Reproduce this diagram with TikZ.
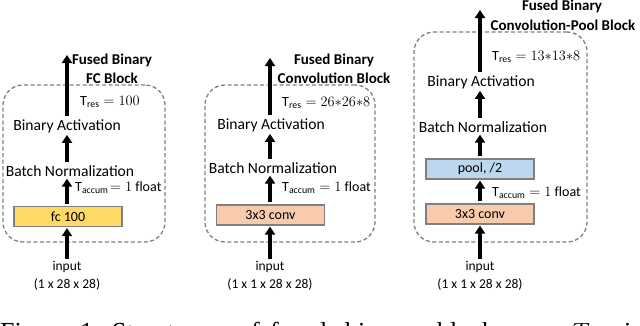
\documentclass[tikz,border=0pt]{standalone}
\usepackage{fontspec}
\setmainfont{Carlito}
\newfontfamily\capfont{Liberation Serif}
\usetikzlibrary{arrows.meta}
\definecolor{dashgray}{HTML}{808080}
\definecolor{boxgray}{HTML}{7F7F7F}
\definecolor{fcyellow}{HTML}{FFD966}
\definecolor{convorange}{HTML}{F8CBAD}
\definecolor{poolblue}{HTML}{BDD7EE}
\begin{document}
\begin{tikzpicture}[x=1pt,y=-1pt,
 lbl/.style={font=\fontsize{15.6}{17}\selectfont, inner sep=1pt},
 ttl/.style={font=\fontsize{15}{16}\selectfont\bfseries, inner sep=0pt},
 blk/.style={draw=boxgray, line width=1.2pt, minimum width=108pt, minimum height=20pt, inner sep=0pt, font=\fontsize{14}{15}\selectfont},
 arr/.style={line width=3.2pt, -{Triangle[width=10pt,length=8pt]}, shorten <=2pt, shorten >=1pt},
 grp/.style={draw=dashgray, dash pattern=on 4pt off 2.5pt, line width=1.3pt, rounded corners=20pt, inner sep=0pt},
 mth/.style={font=\fontsize{14}{16}\selectfont, inner sep=0pt, anchor=west},
 inp/.style={font=\fontsize{13.5}{15}\selectfont, inner sep=0pt},
 captxt/.style={font=\capfont\fontsize{26}{30}\selectfont, inner sep=0pt, anchor=base west}]
\useasboundingbox (0,0) rectangle (640,325);
\fill[white] (0,0) rectangle (640,325);

% ---------- Block 1 ----------
\node[grp, minimum width=162pt, minimum height=157pt] (g1) at (84,163.5) {};
\node[ttl] (t1a) at (112,60) {Fused Binary};
\node[ttl] (t1b) at (112,78) {FC Block};
\node[mth] (r1) at (80,102) {$\mathrm{T}_{\mathrm{res}} = 100$};
\node[lbl] (ba1) at (67,126) {Binary Activation};
\node[lbl] (bn1) at (70,171) {Batch Normalization};
\node[mth] (c1) at (75,188) {$\mathrm{T}_{\mathrm{accum}}\!= 1\ \mathrm{float}$};
\node[blk, fill=fcyellow] (b1) at (68,216.5) {fc 100};
\node[inp] (i1) at (67,267) {input};
\node[inp] (d1) at (67,284) {(1 x 28 x 28)};
\coordinate (o1) at (67,54);
\draw[arr] (i1.north -| o1) -- (b1.south -| o1);
\draw[arr] (b1.north -| o1) -- (bn1.south -| o1);
\draw[arr] (bn1.north -| o1) -- (ba1.south -| o1);
\draw[arr] (ba1.north -| o1) -- (o1);

% ---------- Block 2 ----------
\node[grp, minimum width=170pt, minimum height=157pt] (g2) at (290,163.5) {};
\node[ttl] (t2a) at (334,60) {Fused Binary};
\node[ttl] (t2b) at (334,78) {Convolution Block};
\node[mth] (r2) at (282,103) {$\mathrm{T}_{\mathrm{res}} = 26{*}26{*}8$};
\node[lbl] (ba2) at (271,125) {Binary Activation};
\node[lbl] (bn2) at (273,168) {Batch Normalization};
\node[mth] (c2) at (282,188) {$\mathrm{T}_{\mathrm{accum}} = 1\ \mathrm{float}$};
\node[blk, fill=convorange] (b2) at (270.5,215) {3x3 conv};
\node[inp] (i2) at (270,267) {input};
\node[inp] (d2) at (270,284) {(1 x 1 x 28 x 28)};
\coordinate (o2) at (270,57);
\draw[arr] (i2.north -| o2) -- (b2.south -| o2);
\draw[arr] (b2.north -| o2) -- (bn2.south -| o2);
\draw[arr] (bn2.north -| o2) -- (ba2.south -| o2);
\draw[arr] (ba2.north -| o2) -- (o2);

% ---------- Block 3 ----------
\node[grp, minimum width=173pt, minimum height=210pt] (g3) at (500.5,137) {};
\node[ttl] (t3a) at (562,6) {Fused Binary};
\node[ttl] (t3b) at (563,25) {Convolution-Pool Block};
\node[mth] (r3) at (492,57) {$\mathrm{T}_{\mathrm{res}} = 13{*}13{*}8$};
\node[lbl] (ba3) at (481,82) {Binary Activation};
\node[lbl] (bn3) at (483,127) {Batch Normalization};
\node[blk, fill=poolblue] (p3) at (480,169) {pool, /2};
\node[mth] (c3) at (492,193) {$\mathrm{T}_{\mathrm{accum}} = 1\ \mathrm{float}$};
\node[blk, fill=convorange] (b3) at (480,214) {3x3 conv};
\node[inp] (i3) at (480,267) {input};
\node[inp] (d3) at (480,284) {(1 x 1 x 28 x 28)};
\coordinate (o3) at (480,9);
\draw[arr] (i3.north -| o3) -- (b3.south -| o3);
\draw[arr] (b3.north -| o3) -- (p3.south -| o3);
\draw[arr] (p3.north -| o3) -- (bn3.south -| o3);
\draw[arr] (bn3.north -| o3) -- (ba3.south -| o3);
\draw[arr] (ba3.north -| o3) -- (o3);

% ---------- caption (cut off) ----------
\begin{scope}
\clip (0,0) rectangle (640,325);
\node[captxt] (w1) at (0,340) {Figure};
\node[captxt] (w2) at (80,340) {1:};
\node[captxt] (w3) at (112,340) {Structure};
\node[captxt] (w4) at (238,340) {of};
\node[captxt] (w5) at (270,340) {fused};
\node[captxt] (w6) at (345,340) {binary};
\node[captxt] (w7) at (437,340) {blocks.};
\node[captxt] (w8) at (572,340) {$T_{res}$};
\node[captxt] (w9) at (624,340) {is};
\end{scope}
\end{tikzpicture}
\end{document}
